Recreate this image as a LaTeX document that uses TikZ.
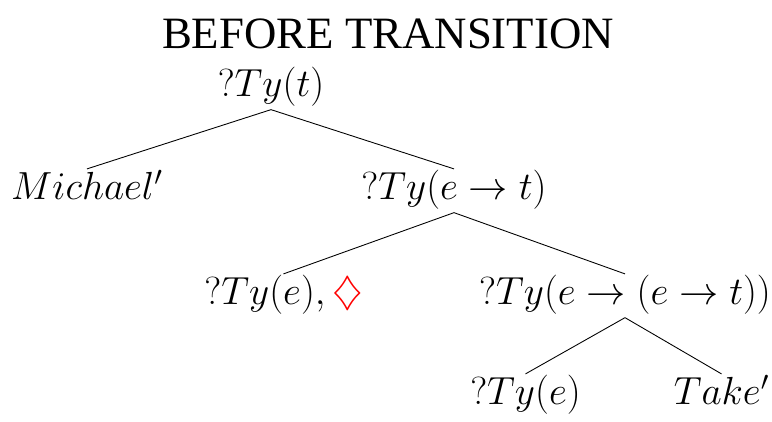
\RequirePackage{fix-cm}
\documentclass[tikz,border=0pt]{standalone}
\usepackage{fontspec}
\newfontfamily\titlefont{Liberation Serif}
\usetikzlibrary{positioning}

\begin{document}
\begin{tikzpicture}[
  font=\fontsize{22.3}{27}\selectfont,
  title/.style={anchor=base,font=\titlefont\fontsize{25.5}{30}\selectfont},
  tnode/.style={anchor=base,inner sep=1.5pt,text height=16pt,text depth=5.5pt},
  branch/.style={line width=0.5pt},
]
\useasboundingbox (0,0) rectangle (15.44,-8.44);

% ---- Heading ----------------------------------------------------------------
\node[title] (head) at (7.76,-0.98) {BEFORE TRANSITION};

% ---- Tree nodes -------------------------------------------------------------
\node[tnode] (root)  at (5.42,-1.94)  {$?Ty(t)$};
\node[tnode] (subj)  at (1.74,-4.00)  {$Michael'$};
\node[tnode] (vp)    at (9.08,-4.00)  {$?Ty(e\rightarrow t)$};
\node[tnode] (obj)   at (5.67,-6.10)  {$?Ty(e),\textcolor{red}{\diamondsuit}$};
\node[tnode] (pred)  at (12.50,-6.10) {$?Ty(e\rightarrow(e\rightarrow t))$};
\node[tnode] (arg)   at (10.51,-8.10) {$?Ty(e)$};
\node[tnode] (take)  at (14.43,-8.10) {$Take'$};

% ---- Branches ---------------------------------------------------------------
\foreach \from/\to in {root/subj, root/vp, vp/obj, vp/pred, pred/arg, pred/take}{
  \draw[branch] (\from.south) -- (\to.north);
}

\end{tikzpicture}
\end{document}
